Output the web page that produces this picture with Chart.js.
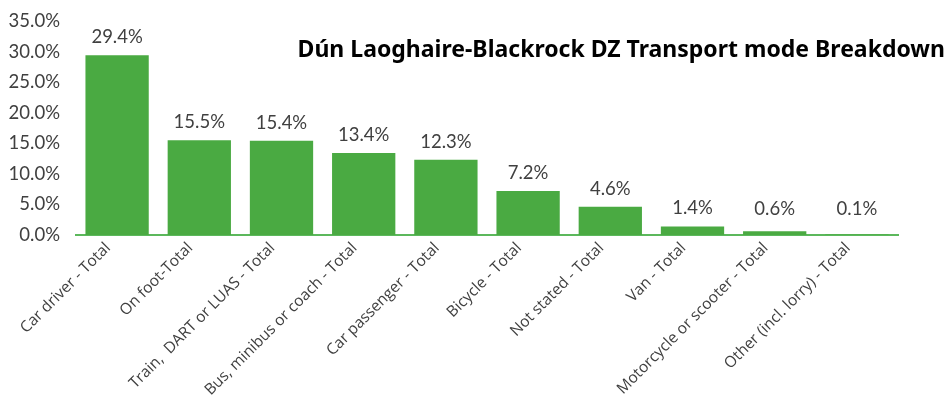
<!DOCTYPE html>
<html lang="en">
<head>
<meta charset="UTF-8">
<title>Dún Laoghaire-Blackrock DZ Transport mode Breakdown</title>
<script src="https://cdn.jsdelivr.net/npm/chart.js"></script>
<style>
  html, body { margin: 0; padding: 0; background: #fff; }
  #wrap { width: 948px; height: 399px; position: relative; }
</style>
</head>
<body>
<div id="wrap"><canvas id="modeChart"></canvas></div>
<script>
// Transport mode shares (%)
const modes = [
  'Car driver - Total',
  'On foot-Total',
  'Train,  DART or LUAS - Total',
  'Bus, minibus or coach - Total',
  'Car passenger - Total',
  'Bicycle - Total',
  'Not stated - Total',
  'Van - Total',
  'Motorcycle or scooter - Total',
  'Other (incl. lorry) - Total'
];
const shares = [29.4, 15.5, 15.4, 13.4, 12.3, 7.2, 4.6, 1.4, 0.6, 0.1];
const chartTitle = 'Dún Laoghaire-Blackrock DZ Transport mode Breakdown';

const green = '#4aaa42';
const textGrey = '#404040';

// value labels above each bar
const barValues = {
  id: 'barValues',
  afterDatasetsDraw(chart) {
    const ctx = chart.ctx;
    const meta = chart.getDatasetMeta(0);
    ctx.save();
    ctx.font = '18.5px Lato';
    ctx.fillStyle = textGrey;
    ctx.textAlign = 'center';
    ctx.textBaseline = 'bottom';
    meta.data.forEach((bar, i) => {
      ctx.fillText(shares[i].toFixed(1) + '%', bar.x, Math.min(bar.y, chart.chartArea.bottom - 8) - 9);
    });
    ctx.restore();
  }
};

// title sits inside the plot, top right
const innerTitle = {
  id: 'innerTitle',
  afterDraw(chart) {
    const ctx = chart.ctx;
    ctx.save();
    ctx.font = 'bold 23px "Noto Sans"';
    ctx.fillStyle = '#000';
    ctx.textAlign = 'right';
    ctx.textBaseline = 'middle';
    ctx.fillText(chartTitle, chart.width - 3, 50);
    ctx.restore();
  }
};

new Chart(document.getElementById('modeChart'), {
  type: 'bar',
  data: {
    labels: modes,
    datasets: [{
      data: shares,
      backgroundColor: green,
      barPercentage: 0.77,
      categoryPercentage: 1.0
    }]
  },
  options: {
    responsive: true,
    maintainAspectRatio: false,
    animation: false,
    layout: { padding: { top: 21, right: 50, left: 0, bottom: 0 } },
    plugins: {
      legend: { display: false },
      tooltip: { enabled: false }
    },
    scales: {
      x: {
        grid: { display: false, drawTicks: false },
        border: { display: true, color: '#5cb85c', width: 2 },
        afterFit(scale) { scale.height = 164; },
        ticks: {
          minRotation: 45,
          maxRotation: 45,
          padding: 4,
          labelOffset: -9,
          color: textGrey,
          font: { family: '"Open Sans"', size: 15.5 }
        }
      },
      y: {
        min: 0,
        max: 35,
        grid: { display: false, drawTicks: false },
        border: { display: false },
        afterFit(scale) {
          scale.width = 76;
          scale.paddingTop = 0;
        },
        ticks: {
          stepSize: 5,
          padding: 16,
          color: textGrey,
          font: { family: 'Lato', size: 18.5, lineHeight: 1.0 },
          callback: v => v.toFixed(1) + '%'
        }
      }
    }
  },
  plugins: [barValues, innerTitle]
});
</script>
</body>
</html>
